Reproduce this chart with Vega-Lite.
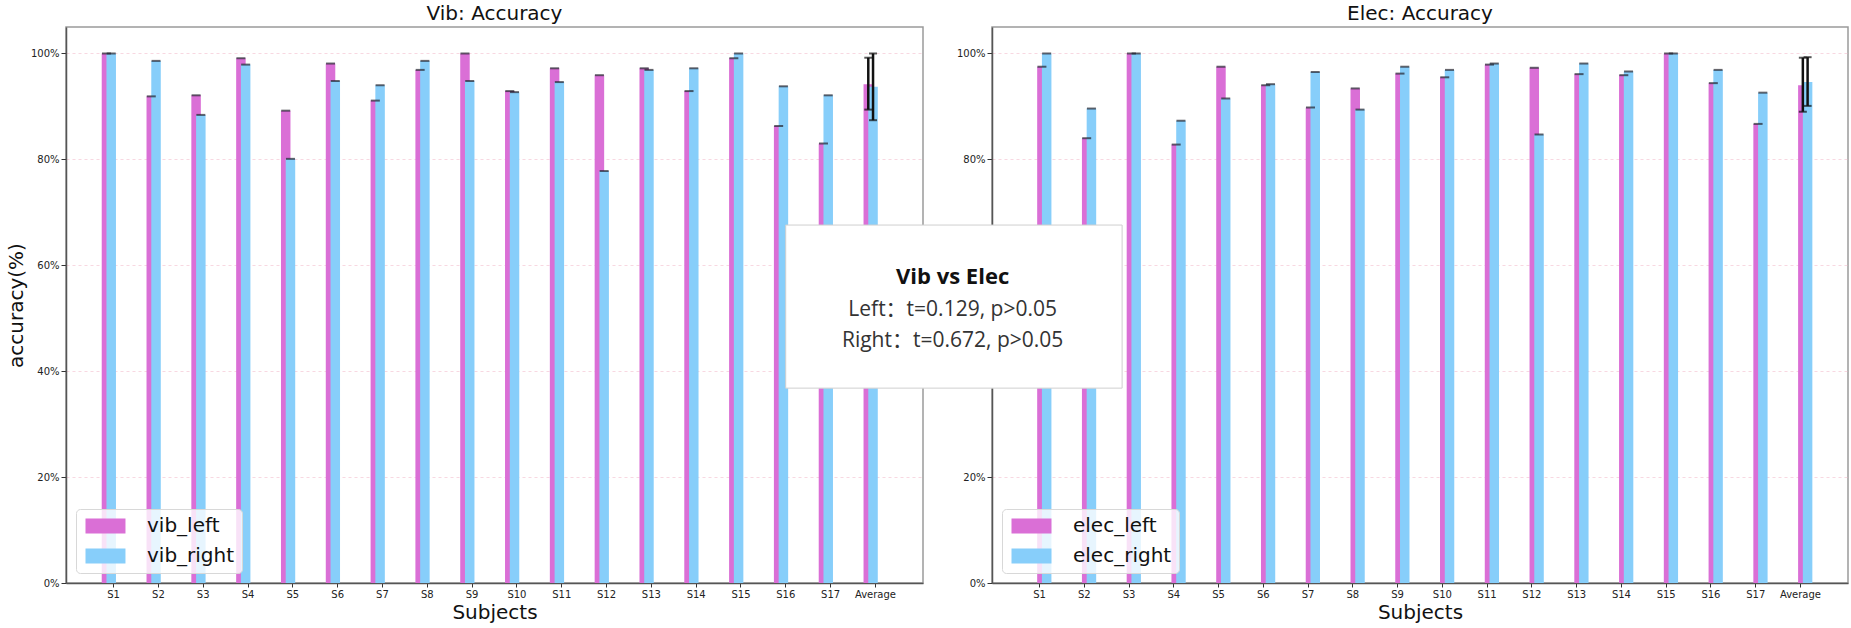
{
  "$schema": "https://vega.github.io/schema/vega-lite/v6.json",
  "description": "Vib and Elec left/right accuracy per subject, with a t-test note between the panels.",
  "padding": {"left": 5, "top": 3, "right": 0, "bottom": 0},
  "bounds": "flush",
  "spacing": 69,
  "datasets": {
    "acc": [
      {"panel": "Vib", "subject": "S1", "series": "vib_left", "acc": 100},
      {"panel": "Vib", "subject": "S1", "series": "vib_right", "acc": 100},
      {"panel": "Vib", "subject": "S2", "series": "vib_left", "acc": 91.9},
      {"panel": "Vib", "subject": "S2", "series": "vib_right", "acc": 98.6},
      {"panel": "Vib", "subject": "S3", "series": "vib_left", "acc": 92.1},
      {"panel": "Vib", "subject": "S3", "series": "vib_right", "acc": 88.4},
      {"panel": "Vib", "subject": "S4", "series": "vib_left", "acc": 99.1},
      {"panel": "Vib", "subject": "S4", "series": "vib_right", "acc": 97.9},
      {"panel": "Vib", "subject": "S5", "series": "vib_left", "acc": 89.2},
      {"panel": "Vib", "subject": "S5", "series": "vib_right", "acc": 80.1},
      {"panel": "Vib", "subject": "S6", "series": "vib_left", "acc": 98.1},
      {"panel": "Vib", "subject": "S6", "series": "vib_right", "acc": 94.8},
      {"panel": "Vib", "subject": "S7", "series": "vib_left", "acc": 91.1},
      {"panel": "Vib", "subject": "S7", "series": "vib_right", "acc": 94.0},
      {"panel": "Vib", "subject": "S8", "series": "vib_left", "acc": 96.9},
      {"panel": "Vib", "subject": "S8", "series": "vib_right", "acc": 98.6},
      {"panel": "Vib", "subject": "S9", "series": "vib_left", "acc": 100},
      {"panel": "Vib", "subject": "S9", "series": "vib_right", "acc": 94.8},
      {"panel": "Vib", "subject": "S10", "series": "vib_left", "acc": 92.9},
      {"panel": "Vib", "subject": "S10", "series": "vib_right", "acc": 92.7},
      {"panel": "Vib", "subject": "S11", "series": "vib_left", "acc": 97.2},
      {"panel": "Vib", "subject": "S11", "series": "vib_right", "acc": 94.6},
      {"panel": "Vib", "subject": "S12", "series": "vib_left", "acc": 95.9},
      {"panel": "Vib", "subject": "S12", "series": "vib_right", "acc": 77.8},
      {"panel": "Vib", "subject": "S13", "series": "vib_left", "acc": 97.2},
      {"panel": "Vib", "subject": "S13", "series": "vib_right", "acc": 96.9},
      {"panel": "Vib", "subject": "S14", "series": "vib_left", "acc": 92.9},
      {"panel": "Vib", "subject": "S14", "series": "vib_right", "acc": 97.2},
      {"panel": "Vib", "subject": "S15", "series": "vib_left", "acc": 99.1},
      {"panel": "Vib", "subject": "S15", "series": "vib_right", "acc": 100},
      {"panel": "Vib", "subject": "S16", "series": "vib_left", "acc": 86.3},
      {"panel": "Vib", "subject": "S16", "series": "vib_right", "acc": 93.8},
      {"panel": "Vib", "subject": "S17", "series": "vib_left", "acc": 83.0},
      {"panel": "Vib", "subject": "S17", "series": "vib_right", "acc": 92.1},
      {"panel": "Vib", "subject": "Average", "series": "vib_left", "acc": 94.2},
      {"panel": "Vib", "subject": "Average", "series": "vib_right", "acc": 93.7},
      {"panel": "Elec", "subject": "S1", "series": "elec_left", "acc": 97.5},
      {"panel": "Elec", "subject": "S1", "series": "elec_right", "acc": 100},
      {"panel": "Elec", "subject": "S2", "series": "elec_left", "acc": 84.0},
      {"panel": "Elec", "subject": "S2", "series": "elec_right", "acc": 89.6},
      {"panel": "Elec", "subject": "S3", "series": "elec_left", "acc": 100},
      {"panel": "Elec", "subject": "S3", "series": "elec_right", "acc": 100},
      {"panel": "Elec", "subject": "S4", "series": "elec_left", "acc": 82.8},
      {"panel": "Elec", "subject": "S4", "series": "elec_right", "acc": 87.3},
      {"panel": "Elec", "subject": "S5", "series": "elec_left", "acc": 97.5},
      {"panel": "Elec", "subject": "S5", "series": "elec_right", "acc": 91.5},
      {"panel": "Elec", "subject": "S6", "series": "elec_left", "acc": 94.0},
      {"panel": "Elec", "subject": "S6", "series": "elec_right", "acc": 94.2},
      {"panel": "Elec", "subject": "S7", "series": "elec_left", "acc": 89.8},
      {"panel": "Elec", "subject": "S7", "series": "elec_right", "acc": 96.5},
      {"panel": "Elec", "subject": "S8", "series": "elec_left", "acc": 93.4},
      {"panel": "Elec", "subject": "S8", "series": "elec_right", "acc": 89.4},
      {"panel": "Elec", "subject": "S9", "series": "elec_left", "acc": 96.2},
      {"panel": "Elec", "subject": "S9", "series": "elec_right", "acc": 97.5},
      {"panel": "Elec", "subject": "S10", "series": "elec_left", "acc": 95.5},
      {"panel": "Elec", "subject": "S10", "series": "elec_right", "acc": 96.9},
      {"panel": "Elec", "subject": "S11", "series": "elec_left", "acc": 97.9},
      {"panel": "Elec", "subject": "S11", "series": "elec_right", "acc": 98.1},
      {"panel": "Elec", "subject": "S12", "series": "elec_left", "acc": 97.3},
      {"panel": "Elec", "subject": "S12", "series": "elec_right", "acc": 84.7},
      {"panel": "Elec", "subject": "S13", "series": "elec_left", "acc": 96.1},
      {"panel": "Elec", "subject": "S13", "series": "elec_right", "acc": 98.1},
      {"panel": "Elec", "subject": "S14", "series": "elec_left", "acc": 95.9},
      {"panel": "Elec", "subject": "S14", "series": "elec_right", "acc": 96.6},
      {"panel": "Elec", "subject": "S15", "series": "elec_left", "acc": 100},
      {"panel": "Elec", "subject": "S15", "series": "elec_right", "acc": 100},
      {"panel": "Elec", "subject": "S16", "series": "elec_left", "acc": 94.4},
      {"panel": "Elec", "subject": "S16", "series": "elec_right", "acc": 96.9},
      {"panel": "Elec", "subject": "S17", "series": "elec_left", "acc": 86.7},
      {"panel": "Elec", "subject": "S17", "series": "elec_right", "acc": 92.6},
      {"panel": "Elec", "subject": "Average", "series": "elec_left", "acc": 94.0},
      {"panel": "Elec", "subject": "Average", "series": "elec_right", "acc": 94.6}
    ],
    "err": [
      {"panel": "Vib", "subject": "Average", "series": "vib_left", "lo": 89.4, "hi": 99.2},
      {"panel": "Vib", "subject": "Average", "series": "vib_right", "lo": 87.4, "hi": 100.0},
      {"panel": "Elec", "subject": "Average", "series": "elec_left", "lo": 89.0, "hi": 99.2},
      {"panel": "Elec", "subject": "Average", "series": "elec_right", "lo": 90.1, "hi": 99.3}
    ]
  },
  "hconcat": [
    {
      "width": 857,
      "height": 556,
      "title": "Vib: Accuracy",
      "layer": [
        {
          "data": {"name": "acc"},
          "transform": [{"filter": "datum.panel === 'Vib'"}],
          "encoding": {
            "x": {"field": "subject", "type": "nominal", "title": "Subjects",
                  "scale": {"domain": ["S1","S2","S3","S4","S5","S6","S7","S8","S9","S10","S11","S12","S13","S14","S15","S16","S17","Average"], "paddingInner": 0.576, "paddingOuter": 0.85}},
            "xOffset": {"field": "series", "type": "nominal", "scale": {"domain": ["vib_left", "vib_right"], "paddingInner": 0, "paddingOuter": 0}},
            "y": {"field": "acc", "type": "quantitative", "title": "accuracy(%)",
                  "scale": {"domain": [0, 105], "nice": false},
                  "axis": {"values": [0, 20, 40, 60, 80, 100], "labelExpr": "datum.value + '%'"}}
          },
          "layer": [
            {
              "mark": {"type": "bar", "width": 9.5},
              "encoding": {
                "color": {"field": "series", "type": "nominal",
                          "scale": {"domain": ["vib_left", "vib_right"], "range": ["#DA6FD6", "#87CEFA"]},
                          "legend": {"title": null}}
              }
            },
            {
              "transform": [{"filter": "datum.subject !== 'Average'"}],
              "mark": {"type": "tick", "size": 9, "thickness": 2, "color": "#23232e"}
            }
          ]
        },
        {
          "data": {"name": "err"},
          "transform": [{"filter": "datum.panel === 'Vib'"}],
          "encoding": {
            "x": {"field": "subject", "type": "nominal", "title": "Subjects"},
            "xOffset": {"field": "series", "type": "nominal"}
          },
          "layer": [
            {
              "mark": {"type": "rule", "color": "#111", "strokeWidth": 2.5},
              "encoding": {
                "y": {"field": "lo", "type": "quantitative", "title": "accuracy(%)"},
                "y2": {"field": "hi"}
              }
            },
            {
              "mark": {"type": "tick", "size": 8, "thickness": 2, "color": "#111"},
              "encoding": {"y": {"field": "lo", "type": "quantitative", "title": "accuracy(%)"}}
            },
            {
              "mark": {"type": "tick", "size": 8, "thickness": 2, "color": "#111"},
              "encoding": {"y": {"field": "hi", "type": "quantitative", "title": "accuracy(%)"}}
            }
          ]
        }
      ]
    },
    {
      "width": 856,
      "height": 556,
      "title": "Elec: Accuracy",
      "resolve": {"scale": {"x": "independent"}},
      "layer": [
        {
          "layer": [
            {
              "data": {"name": "acc"},
              "transform": [{"filter": "datum.panel === 'Elec'"}],
              "encoding": {
                "x": {"field": "subject", "type": "nominal", "title": "Subjects",
                      "scale": {"domain": ["S1","S2","S3","S4","S5","S6","S7","S8","S9","S10","S11","S12","S13","S14","S15","S16","S17","Average"], "paddingInner": 0.576, "paddingOuter": 0.85}},
                "xOffset": {"field": "series", "type": "nominal", "scale": {"domain": ["elec_left", "elec_right"], "paddingInner": 0, "paddingOuter": 0}},
                "y": {"field": "acc", "type": "quantitative", "title": null,
                      "scale": {"domain": [0, 105], "nice": false},
                      "axis": {"values": [0, 20, 40, 60, 80, 100], "labelExpr": "datum.value + '%'"}}
              },
              "layer": [
                {
                  "mark": {"type": "bar", "width": 9.5},
                  "encoding": {
                    "color": {"field": "series", "type": "nominal",
                              "scale": {"domain": ["elec_left", "elec_right"], "range": ["#DA6FD6", "#87CEFA"]},
                              "legend": {"title": null}}
                  }
                },
                {
                  "transform": [{"filter": "datum.subject !== 'Average'"}],
                  "mark": {"type": "tick", "size": 9, "thickness": 2, "color": "#23232e"}
                }
              ]
            },
            {
              "data": {"name": "err"},
              "transform": [{"filter": "datum.panel === 'Elec'"}],
              "encoding": {
                "x": {"field": "subject", "type": "nominal", "title": "Subjects"},
                "xOffset": {"field": "series", "type": "nominal"}
              },
              "layer": [
                {
                  "mark": {"type": "rule", "color": "#111", "strokeWidth": 2.5},
                  "encoding": {
                    "y": {"field": "lo", "type": "quantitative", "title": null},
                    "y2": {"field": "hi"}
                  }
                },
                {
                  "mark": {"type": "tick", "size": 8, "thickness": 2, "color": "#111"},
                  "encoding": {"y": {"field": "lo", "type": "quantitative", "title": null}}
                },
                {
                  "mark": {"type": "tick", "size": 8, "thickness": 2, "color": "#111"},
                  "encoding": {"y": {"field": "hi", "type": "quantitative", "title": null}}
                }
              ]
            }
          ]
        },
        {
          "layer": [
            {
              "data": {"values": [{"note": "box"}]},
              "mark": {"type": "rect", "fill": "white", "stroke": "#cfcfcf", "strokeWidth": 1},
              "encoding": {
                "x": {"datum": -24.1, "type": "quantitative", "scale": {"domain": [0, 100], "nice": false, "zero": false}, "axis": null},
                "x2": {"datum": 15.2},
                "y": {"datum": 67.6, "type": "quantitative", "scale": {"domain": [0, 105], "nice": false}, "title": null},
                "y2": {"datum": 36.8}
              }
            },
            {
              "data": {"values": [{"line": "Vib vs Elec"}]},
              "mark": {"type": "text", "font": "Open Sans, Noto Sans CJK SC", "fontSize": 22, "fontWeight": "bold", "color": "#111", "align": "center", "baseline": "alphabetic"},
              "encoding": {
                "x": {"datum": -4.6, "type": "quantitative", "axis": null},
                "y": {"datum": 56.5, "type": "quantitative", "title": null},
                "text": {"field": "line"}
              }
            },
            {
              "data": {"values": [{"line": "Left：t=0.129, p>0.05"}]},
              "mark": {"type": "text", "font": "Open Sans, Noto Sans CJK SC", "fontSize": 21, "color": "#333", "align": "center", "baseline": "alphabetic"},
              "encoding": {
                "x": {"datum": -4.6, "type": "quantitative", "axis": null},
                "y": {"datum": 50.4, "type": "quantitative", "title": null},
                "text": {"field": "line"}
              }
            },
            {
              "data": {"values": [{"line": "Right：t=0.672, p>0.05"}]},
              "mark": {"type": "text", "font": "Open Sans, Noto Sans CJK SC", "fontSize": 21, "color": "#333", "align": "center", "baseline": "alphabetic"},
              "encoding": {
                "x": {"datum": -4.6, "type": "quantitative", "axis": null},
                "y": {"datum": 44.6, "type": "quantitative", "title": null},
                "text": {"field": "line"}
              }
            }
          ]
        }
      ]
    }
  ],
  "resolve": {"scale": {"color": "independent"}},
  "config": {
    "font": "DejaVu Sans",
    "view": {"stroke": "#9a9a9a", "strokeWidth": 1.5},
    "title": {"fontSize": 20, "fontWeight": "normal", "offset": 3, "color": "#111", "font": "DejaVu Sans"},
    "axis": {
      "labelFont": "DejaVu Sans", "labelFontSize": 10, "labelColor": "#222",
      "titleFont": "DejaVu Sans", "titleFontSize": 20, "titleFontWeight": "normal", "titleColor": "#111",
      "tickColor": "#333", "tickSize": 4, "domainColor": "#555", "domainWidth": 1.5
    },
    "axisX": {"labelAngle": 0, "labelPadding": 2, "titlePadding": 3, "grid": false},
    "axisY": {"tickSize": 5, "labelPadding": 2, "titlePadding": 4, "gridColor": "#f2b8c8", "gridOpacity": 0.55, "gridDash": [3, 3]},
    "legend": {
      "orient": "bottom-left", "offset": 10,
      "symbolType": "M-1,-1H4.33V1H-1Z", "symbolSize": 225, "symbolStrokeWidth": 0,
      "labelOffset": 44, "labelFontSize": 20, "labelFont": "DejaVu Sans", "labelColor": "#111",
      "padding": 7, "rowPadding": 10,
      "fillColor": "rgba(255,255,255,0.8)", "strokeColor": "#d8d8d8", "cornerRadius": 4
    }
  }
}
